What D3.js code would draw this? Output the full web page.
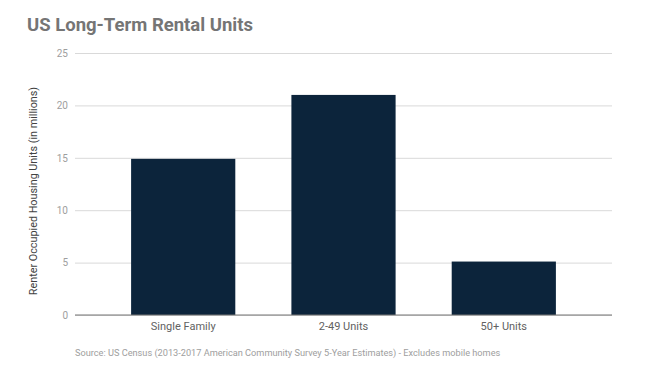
<!DOCTYPE html>
<html><head><meta charset="utf-8">
<script src="https://cdn.jsdelivr.net/npm/d3@7"></script>
<style>body{margin:0;background:#fff}svg{display:block;font-family:Roboto,"Noto Sans",sans-serif}</style>
</head><body>
<svg id="chart" width="672" height="381"></svg>
<script>
const categories = ["Single Family", "2-49 Units", "50+ Units"];
const values = [14.9, 21.0, 5.1];
const yTicks = [0, 5, 10, 15, 20, 25];
const titleText = "US Long-Term Rental Units";
const yLabel = "Renter Occupied Housing Units (in millions)";
const sourceText = "Source: US Census (2013-2017 American Community Survey 5-Year Estimates) - Excludes mobile homes";

const svg = d3.select("#chart");
const m = {left: 75, right: 60, top: 53, bottom: 66};
const W = 672, H = 381;
const x = d3.scaleBand().domain(categories).range([m.left, W - m.right]).paddingInner(0.35).paddingOuter(0.35);
const y = d3.scaleLinear().domain([0, 25]).range([H - m.bottom, m.top]);

svg.append("rect").attr("width", W).attr("height", H).attr("fill", "#fff");

svg.append("text").attr("x", 27).attr("y", 30.5).attr("font-size", 18.5).attr("font-weight", "bold")
  .attr("fill", "#757575").text(titleText);

// grid
const yAxis = d3.axisLeft(y).tickValues(yTicks).tickSize(-(W - m.right - m.left)).tickPadding(7);
const gy = svg.append("g").attr("transform", `translate(${m.left},0)`).call(yAxis);
gy.select(".domain").remove();
gy.selectAll(".tick line").attr("stroke", "#d9d9d9");
gy.selectAll(".tick text").attr("fill", "#9e9e9e").attr("font-size", 10).attr("font-family", "Roboto");

// bars
svg.append("g").selectAll("rect").data(values).join("rect")
  .attr("x", (d, i) => x(categories[i]))
  .attr("y", d => y(d))
  .attr("width", x.bandwidth())
  .attr("height", d => y(0) - y(d))
  .attr("fill", "#0c243b");

// baseline
svg.append("line").attr("x1", m.left).attr("x2", W - m.right).attr("y1", y(0)).attr("y2", y(0))
  .attr("stroke", "#757575").attr("stroke-width", 1);

// x labels
const xAxis = d3.axisBottom(x).tickSize(0).tickPadding(7);
const gx = svg.append("g").attr("transform", `translate(0,${y(0)})`).call(xAxis);
gx.select(".domain").remove();
gx.selectAll(".tick text").attr("fill", "#616161").attr("font-size", 11).attr("font-family", "Roboto");

// y label
svg.append("text").attr("transform", `translate(37,191) rotate(-90)`)
  .attr("text-anchor", "middle").attr("font-size", 10.8).attr("fill", "#424242").text(yLabel);

// source
svg.append("text").attr("x", 75).attr("y", 356).attr("font-size", 9.2).attr("fill", "#9e9e9e").text(sourceText);
</script>
</body></html>
